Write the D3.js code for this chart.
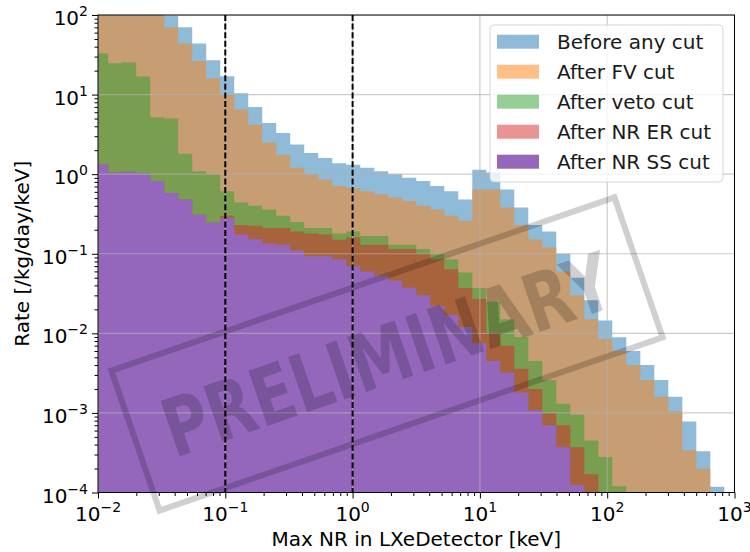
<!DOCTYPE html>
<html><head><meta charset="utf-8">
<script src="https://cdn.jsdelivr.net/npm/d3@7"></script>
<style>body{margin:0;background:#fff} svg{display:block} text{font-family:"DejaVu Sans",sans-serif;}</style>
</head><body><svg id="c" width="750" height="552"></svg>
<script>
// ---------------- data ----------------
const binLogLo = -2.03, binLogHi = 2.92, nBins = 45;   // log-spaced histogram bin edges
const seriesNames = ["Before any cut", "After FV cut", "After veto cut", "After NR ER cut", "After NR SS cut"];
const seriesColors = ["#1f77b4", "#ff7f0e", "#2ca02c", "#d62728", "#9467bd"];
const seriesAlpha = [0.5, 0.5, 0.5, 0.5, 1.0];
const beforeAny = [850, 550, 350, 230, 150, 98, 70, 44, 27, 17, 10.4, 7.0, 4.4, 3.3, 2.36, 1.85, 1.6, 1.37, 1.31, 1.2,
  1.09, 1.0, 0.90, 0.82, 0.71, 0.61, 0.48, 1.14, 1.05, 0.64, 0.38, 0.23, 0.19, 0.10, 0.05, 0.026, 0.0145, 0.0089, 0.006, 0.004,
  0.0026, 0.0016, 0.00078, 0.00033, 0.000118];
const afterFV = [500, 330, 220, 160, 105, 70, 44, 26.5, 16, 10, 6.5, 4.2, 2.5, 1.76, 1.2, 1.0, 0.86, 0.71, 0.67, 0.61,
  0.56, 0.51, 0.46, 0.40, 0.36, 0.30, 0.26, 0.64, 0.64, 0.38, 0.23, 0.152, 0.12, 0.06, 0.03, 0.015, 0.0085, 0.006, 0.004, 0.0026,
  0.0016, 0.00105, 0.00034, 0.0002, 0];
const afterVeto = [33, 24.8, 25.3, 16.9, 5.2, 5.0, 1.8, 1.09, 1.0, 0.61, 0.44, 0.40, 0.36, 0.30, 0.25, 0.21, 0.21, 0.18, 0.19, 0.167,
  0.167, 0.13, 0.13, 0.115, 0.10, 0.085, 0.058, 0.037, 0.025, 0.015, 0.009, 0.0045, 0.0026, 0.0013, 0.00095, 0.00045, 0.00028, 0.00012, 0, 0,
  0, 0, 0, 0, 0];
const afterNRER = [1.32, 1.05, 1.07, 1.03, 0.82, 0.58, 0.48, 0.31, 0.245, 0.30, 0.23, 0.225, 0.21, 0.21, 0.19, 0.18, 0.175, 0.15, 0.16, 0.13,
  0.13, 0.115, 0.115, 0.10, 0.085, 0.064, 0.037, 0.027, 0.0102, 0.007, 0.0036, 0.002, 0.001, 0.0007, 0.00037, 0.00017, 0, 0, 0, 0,
  0, 0, 0, 0, 0];
const afterNRSS = [1.32, 1.05, 1.07, 1.03, 0.82, 0.58, 0.48, 0.31, 0.245, 0.28, 0.175, 0.152, 0.135, 0.13, 0.11, 0.093, 0.093, 0.085, 0.07, 0.06,
  0.053, 0.046, 0.0375, 0.03, 0.022, 0.017, 0.012, 0.0075, 0.0045, 0.0032, 0.0018, 0.00108, 0.0007, 0.00037, 0.000123, 0, 0, 0, 0, 0,
  0, 0, 0, 0, 0];
const cutLines = [0.1, 1];
const xMajorTicks = [1e-2, 1e-1, 1e0, 1e1, 1e2, 1e3];
const xTickExp = ["−2", "−1", "0", "1", "2", "3"];
const yMajorTicks = [1e-4, 1e-3, 1e-2, 1e-1, 1e0, 1e1, 1e2];
const yTickExp = ["−4", "−3", "−2", "−1", "0", "1", "2"];
const xLabel = "Max NR in LXeDetector [keV]";
const yLabel = "Rate [/kg/day/keV]";
const watermark = "PRELIMINARY";

// ---------------- layout ----------------
const L = 98, R = 734.5, T = 15, B = 492.5;
const svg = d3.select("#c");
const x = d3.scaleLog().domain([1e-2, 1e3]).range([L, R]);
const y = d3.scaleLog().domain([1e-4, 1e2]).range([B, T]);
const edges = d3.range(nBins + 1).map(i => Math.pow(10, binLogLo + (binLogHi - binLogLo) * i / nBins));

svg.append("defs").append("clipPath").attr("id", "clip")
  .append("rect").attr("x", L).attr("y", T).attr("width", R - L).attr("height", B - T);

const allSeries = [beforeAny, afterFV, afterVeto, afterNRER, afterNRSS];
const floorV = 1e-7;
const line = d3.line().x(d => x(d[0])).y(d => y(Math.max(d[1], floorV)));
const gBars = svg.append("g").attr("clip-path", "url(#clip)");
allSeries.forEach((vals, si) => {
  const pts = [[edges[0], floorV]];
  vals.forEach((v, k) => { pts.push([edges[k], v]); pts.push([edges[k + 1], v]); });
  pts.push([edges[nBins], floorV]);
  gBars.append("path").attr("d", line(pts) + "Z")
    .attr("fill", seriesColors[si]).attr("fill-opacity", seriesAlpha[si]).attr("stroke", "none");
});

// grid
const gGrid = svg.append("g").attr("clip-path", "url(#clip)");
xMajorTicks.forEach(t => gGrid.append("line").attr("x1", x(t)).attr("x2", x(t)).attr("y1", T).attr("y2", B)
  .attr("stroke", "#b0b0b0").attr("stroke-opacity", 0.65).attr("stroke-width", 1.2));
yMajorTicks.forEach(t => gGrid.append("line").attr("y1", y(t)).attr("y2", y(t)).attr("x1", L).attr("x2", R)
  .attr("stroke", "#b0b0b0").attr("stroke-opacity", 0.65).attr("stroke-width", 1.2));

// cut lines
cutLines.forEach(c => svg.append("line").attr("x1", x(c)).attr("x2", x(c)).attr("y1", T).attr("y2", B)
  .attr("stroke", "#000").attr("stroke-width", 2).attr("stroke-dasharray", "6,2.6"));

// axes
const minorOf = (lo, hi) => { const a = []; for (let e = lo; e < hi; e++) for (let m = 2; m <= 9; m++) a.push(m * Math.pow(10, e)); return a; };
const axStyle = g => { g.select(".domain").remove(); g.selectAll("line").attr("stroke", "#000").attr("stroke-width", 1); };
svg.append("g").attr("transform", `translate(0,${B})`).call(d3.axisBottom(x).tickValues(xMajorTicks).tickSize(6).tickFormat("")).call(axStyle);
svg.append("g").attr("transform", `translate(0,${B})`).call(d3.axisBottom(x).tickValues(minorOf(-2, 3)).tickSize(3.5).tickFormat("")).call(axStyle);
svg.append("g").attr("transform", `translate(${L},0)`).call(d3.axisLeft(y).tickValues(yMajorTicks).tickSize(6).tickFormat("")).call(axStyle);
svg.append("g").attr("transform", `translate(${L},0)`).call(d3.axisLeft(y).tickValues(minorOf(-4, 2)).tickSize(3.5).tickFormat("")).call(axStyle);
svg.append("rect").attr("x", L).attr("y", T).attr("width", R - L).attr("height", B - T)
  .attr("fill", "none").attr("stroke", "#000").attr("stroke-width", 1);

// tick labels
xMajorTicks.forEach((t, i) => {
  const tx = svg.append("text").attr("x", x(t)).attr("y", 521).attr("text-anchor", "middle").attr("font-size", 20).attr("fill", "#000");
  tx.append("tspan").text("10");
  tx.append("tspan").attr("font-size", 14).attr("dy", -9).text(xTickExp[i]);
});
yMajorTicks.forEach((t, i) => {
  const tx = svg.append("text").attr("x", 88).attr("y", y(t) + 10).attr("text-anchor", "end").attr("font-size", 20).attr("fill", "#000");
  tx.append("tspan").text("10");
  tx.append("tspan").attr("font-size", 14).attr("dy", -9).text(yTickExp[i]);
});
svg.append("text").attr("x", (L + R) / 2).attr("y", 546).attr("text-anchor", "middle").attr("font-size", 20).text(xLabel);
svg.append("text").attr("transform", `translate(29,${(T + B) / 2}) rotate(-90)`).attr("text-anchor", "middle").attr("font-size", 20).text(yLabel);

// legend
const lg = svg.append("g");
lg.append("rect").attr("x", 490).attr("y", 25).attr("width", 233).attr("height", 157).attr("rx", 4)
  .attr("fill", "#fff").attr("fill-opacity", 0.8).attr("stroke", "#ccc").attr("stroke-opacity", 0.8);
seriesNames.forEach((n, i) => {
  const cy = 41.7 + i * 30;
  lg.append("rect").attr("x", 497).attr("y", cy - 7).attr("width", 42).attr("height", 14)
    .attr("fill", seriesColors[i]).attr("fill-opacity", seriesAlpha[i]);
  lg.append("text").attr("x", 557).attr("y", cy + 7).attr("font-size", 20).attr("fill", "#1a1a1a").text(n);
});

// watermark stamp
const wm = svg.append("g").attr("transform", "translate(387,354) rotate(-19)").attr("opacity", 0.18);
wm.append("rect").attr("x", -266).attr("y", -74).attr("width", 532).attr("height", 148)
  .attr("fill", "none").attr("stroke", "#000").attr("stroke-width", 6);
wm.append("text").attr("x", 0).attr("y", 29).attr("text-anchor", "middle").attr("font-size", 80).attr("font-weight", "bold")
  .attr("textLength", 470).attr("lengthAdjust", "spacingAndGlyphs").attr("fill", "#000").text(watermark);
</script></body></html>
